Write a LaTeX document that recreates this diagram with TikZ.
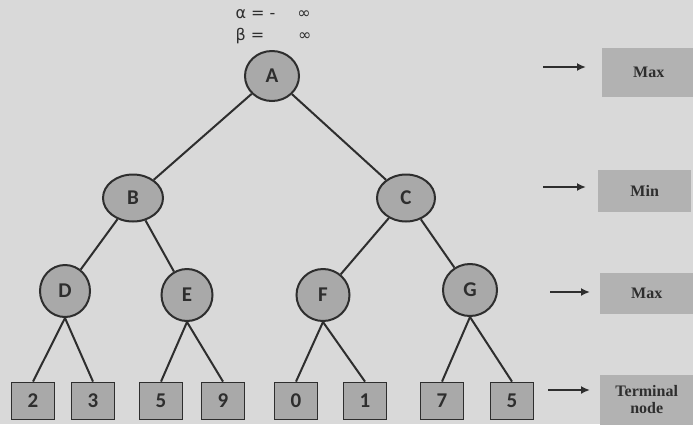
\documentclass[tikz,border=0pt]{standalone}
\usepackage{fontspec}
\setmainfont{Liberation Serif}
\newfontfamily\nodefont{Carlito}
\newfontfamily\symfont{DejaVu Sans}
\usetikzlibrary{shapes.geometric,arrows.meta}
\definecolor{bg}{HTML}{D9D9D9}
\definecolor{nodefill}{HTML}{A9A9A9}
\definecolor{labfill}{HTML}{B2B2B2}
\definecolor{ink}{HTML}{2E2E2E}
\tikzset{
  tnode/.style={ellipse,draw=ink,line width=2pt,fill=nodefill,inner sep=0pt,
    font=\nodefont\fontsize{21}{21}\selectfont\bfseries,text=ink},
  leaf/.style={rectangle,draw=ink,line width=1.8pt,fill=nodefill,minimum width=43pt,
    minimum height=37pt,inner sep=0pt,font=\nodefont\fontsize{21}{21}\selectfont\bfseries,text=ink},
  edge/.style={draw=ink,line width=2pt},
  lab/.style={rectangle,fill=labfill,inner sep=0pt,minimum height=47pt,text width=93pt,align=center,
    font=\fontsize{16}{17}\selectfont\bfseries,text=ink},
  lvlarrow/.style={draw=ink,line width=2pt,-{Latex[length=9pt,width=8pt]}}
}
\begin{document}
\begin{tikzpicture}[x=1pt,y=-1pt]
\useasboundingbox (0,0) rectangle (693,424);
\fill[bg] (0,0) rectangle (693,424);
% alpha beta
\node[anchor=west,font=\symfont\fontsize{16}{16}\selectfont,text=ink] (alpha) at (232,14) {α = -\hspace{22pt}∞};
\node[anchor=west,font=\symfont\fontsize{16}{16}\selectfont,text=ink] (beta) at (232,36) {β =\hspace{34pt}∞};
% tree nodes
\node[tnode,minimum width=54pt,minimum height=50pt] (A) at (272,76) {A};
\node[tnode,minimum width=60pt,minimum height=47pt] (B) at (133,198) {B};
\node[tnode,minimum width=58pt,minimum height=47pt] (C) at (406,198) {C};
\node[tnode,minimum width=50pt,minimum height=52pt] (D) at (65,291) {D};
\node[tnode,minimum width=51pt,minimum height=52pt] (E) at (187,295) {E};
\node[tnode,minimum width=53pt,minimum height=52pt] (F) at (323,295) {F};
\node[tnode,minimum width=54pt,minimum height=52pt] (G) at (470,290) {G};
% leaves
\node[leaf] (L1) at (33,401) {2};
\node[leaf] (L2) at (93,401) {3};
\node[leaf] (L3) at (161,401) {5};
\node[leaf] (L4) at (223,401) {9};
\node[leaf] (L5) at (296,401) {0};
\node[leaf] (L6) at (365,401) {1};
\node[leaf] (L7) at (442,401) {7};
\node[leaf] (L8) at (512,401) {5};
% edges
\draw[edge] (A) -- (B);
\draw[edge] (A) -- (C);
\draw[edge] (B) -- (D);
\draw[edge] (B) -- (E);
\draw[edge] (C) -- (F);
\draw[edge] (C) -- (G);
\draw[edge] (D.south) -- (L1.north);
\draw[edge] (D.south) -- (L2.north);
\draw[edge] (E.south) -- (L3.north);
\draw[edge] (E.south) -- (L4.north);
\draw[edge] (F.south) -- (L5.north);
\draw[edge] (F.south) -- (L6.north);
\draw[edge] (G.south) -- (L7.north);
\draw[edge] (G.south) -- (L8.north);
% level labels
\node[lab,anchor=west,minimum height=49pt] (M1) at (602,72) {Max};
\node[lab,anchor=west,minimum height=42pt] (M2) at (598,191) {Min};
\node[lab,anchor=west,minimum height=41pt] (M3) at (600,293) {Max};
\node[lab,anchor=west,minimum height=50pt] (M4) at (600,400) {Terminal\\node};
\coordinate (a1) at (543,67);
\coordinate (a2) at (543,187);
\coordinate (a3) at (550,292);
\coordinate (a4) at (548,390);
\draw[lvlarrow] (a1) -- ([xshift=-16pt]a1 -| M1.west);
\draw[lvlarrow] (a2) -- ([xshift=-12pt]a2 -| M2.west);
\draw[lvlarrow] (a3) -- ([xshift=-10pt]a3 -| M3.west);
\draw[lvlarrow] (a4) -- ([xshift=-10pt]a4 -| M4.west);
\end{tikzpicture}
\end{document}
